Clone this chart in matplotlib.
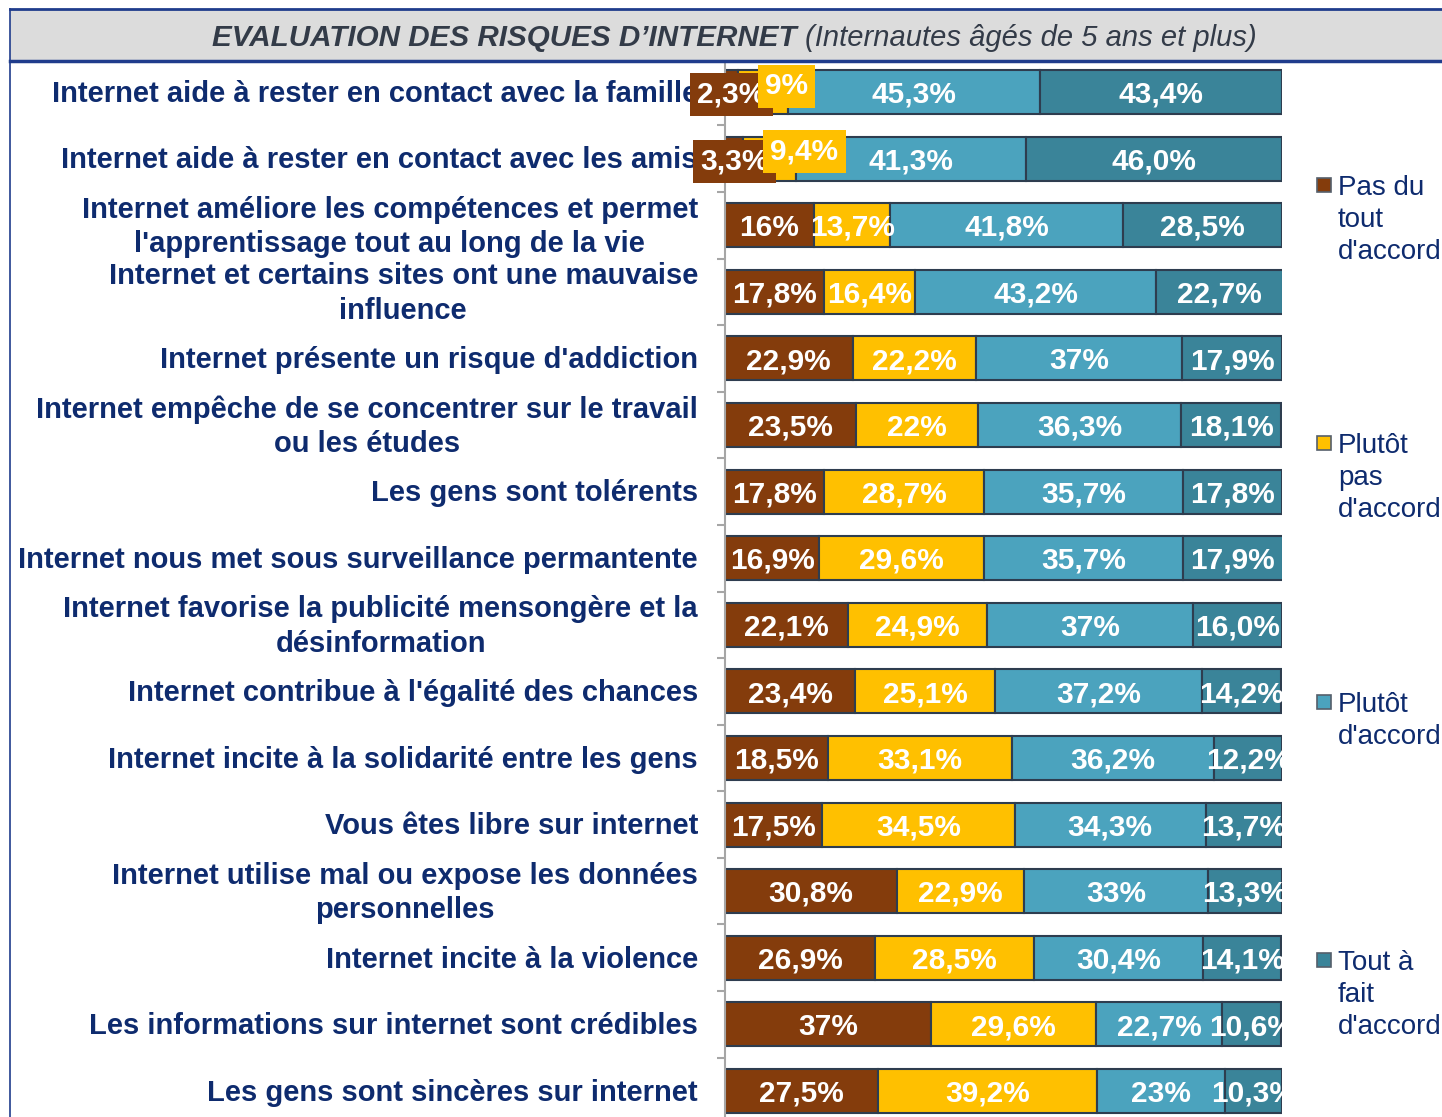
import matplotlib
matplotlib.use("Agg")
import matplotlib.pyplot as plt
from matplotlib.patches import Rectangle
from matplotlib.lines import Line2D

plt.rcParams['font.family'] = ['Liberation Sans', 'DejaVu Sans']

categories = [
    "Internet aide à rester en contact avec la famille",
    "Internet aide à rester en contact avec les amis",
    "Internet améliore les compétences et permet\nl'apprentissage tout au long de la vie",
    "Internet et certains sites ont une mauvaise\ninfluence",
    "Internet présente un risque d'addiction",
    "Internet empêche de se concentrer sur le travail\nou les études",
    "Les gens sont tolérents",
    "Internet nous met sous surveillance permantente",
    "Internet favorise la publicité mensongère et la\ndésinformation",
    "Internet contribue à l'égalité des chances",
    "Internet incite à la solidarité entre les gens",
    "Vous êtes libre sur internet",
    "Internet utilise mal ou expose les données\npersonnelles",
    "Internet incite à la violence",
    "Les informations sur internet sont crédibles",
    "Les gens sont sincères sur internet",
]

# values as printed on the chart (French decimal comma)
pas_du_tout = ["2,3", "3,3", "16", "17,8", "22,9", "23,5", "17,8", "16,9",
               "22,1", "23,4", "18,5", "17,5", "30,8", "26,9", "37", "27,5"]
plutot_pas = ["9", "9,4", "13,7", "16,4", "22,2", "22", "28,7", "29,6",
              "24,9", "25,1", "33,1", "34,5", "22,9", "28,5", "29,6", "39,2"]
plutot = ["45,3", "41,3", "41,8", "43,2", "37", "36,3", "35,7", "35,7",
          "37", "37,2", "36,2", "34,3", "33", "30,4", "22,7", "23"]
tout_a_fait = ["43,4", "46,0", "28,5", "22,7", "17,9", "18,1", "17,8", "17,9",
               "16,0", "14,2", "12,2", "13,7", "13,3", "14,1", "10,6", "10,3"]

series_names = ["Pas du\ntout\nd'accord", "Plutôt\npas\nd'accord",
                "Plutôt\nd'accord", "Tout à\nfait\nd'accord"]
series = [pas_du_tout, plutot_pas, plutot, tout_a_fait]
colors = ["#843C0C", "#FFC000", "#4BA3BE", "#3A8499"]

navy = "#0E2B6E"
edge = "#2E3D4F"

W, H = 1442, 1117
fig = plt.figure(figsize=(W / 100, H / 100), dpi=100)

# axes: x 0..100 maps to px 725..1282, rows every ~66.6 px starting at 92
top_px, bot_px = 92 - 33.3, 92 + 15.5 * 66.6
ax = fig.add_axes([725 / W, 1 - bot_px / H, 557 / W, (bot_px - top_px) / H])

n = len(categories)
ypos = list(range(n))
left = [0.0] * n
for s, (vals, col) in enumerate(zip(series, colors)):
    v = [float(x.replace(",", ".")) for x in vals]
    bars = ax.barh(ypos, v, left=left, height=0.66, color=col,
                   edgecolor=edge, linewidth=1.5, zorder=2)
    for i, (b, txt) in enumerate(zip(bars, vals)):
        cx = left[i] + v[i] / 2
        kw = dict(ha="center", va="center", color="white", fontsize=21.5,
                  fontweight="bold", zorder=5)
        dx, dy = 0, -2
        if i < 2 and s < 2:
            kw["bbox"] = dict(boxstyle="square,pad=0.25", facecolor=col,
                              edgecolor="none")
            if s == 1:
                dx, dy = (17, 4) if i == 0 else (25, 5)
        t = ax.annotate(txt + "%", (cx, i), xytext=(dx, dy),
                        textcoords="offset points", **kw)
        t.set_clip_on(s == 3)
    left = [l + x for l, x in zip(left, v)]

ax.set_xlim(0, 100)
ax.set_ylim(n - 0.5, -0.5)
ax.set_xticks([])
for sp in ["top", "right", "bottom"]:
    ax.spines[sp].set_visible(False)
ax.spines["left"].set_color("#A6A6A6")
ax.spines["left"].set_linewidth(1.5)
ax.set_yticks([])
ax.set_yticks([i + 0.5 for i in range(n - 1)], minor=True)
ax.tick_params(axis="y", which="minor", length=6, width=1.5, color="#A6A6A6")

# category labels
for i, cat in enumerate(categories):
    ax.annotate(cat, (0, i), xycoords=("axes fraction", "data"),
                xytext=(-19.5, -1.3), textcoords="offset points",
                ha="right", va="center", multialignment="center",
                fontsize=21, fontweight="bold", color=navy, linespacing=1.3)

# title band
fig.patches.append(Rectangle((10 / W, 1 - 61 / H), 1 - 10 / W, 51 / H,
                             transform=fig.transFigure, facecolor="#DCDCDC",
                             edgecolor="none", zorder=0))
fig.lines.append(Line2D([10 / W, 1], [1 - 9 / H] * 2, transform=fig.transFigure,
                        color="#1F3C8C", lw=2))
fig.lines.append(Line2D([10 / W, 1], [1 - 61 / H] * 2, transform=fig.transFigure,
                        color="#1F3C8C", lw=2.5))
fig.lines.append(Line2D([10 / W] * 2, [0, 1 - 9 / H], transform=fig.transFigure,
                        color="#1F3C8C", lw=1.2))
fig.text(212 / W, 1 - 38 / H, "EVALUATION DES RISQUES D\u2019INTERNET",
         fontsize=21.3, fontweight="bold", fontstyle="italic", color="#333B48",
         ha="left", va="center")
fig.text(805 / W, 1 - 38 / H, "(Internautes âgés de 5 ans et plus)",
         fontsize=21, fontstyle="italic", color="#333B48",
         ha="left", va="center")

# legend
legend_y = [185, 443, 702, 960]
for name, col, yc in zip(series_names, colors, legend_y):
    fig.patches.append(Rectangle((1317 / W, 1 - (yc + 7) / H), 14 / W, 14 / H,
                                 transform=fig.transFigure, facecolor=col,
                                 edgecolor="#555F6B", lw=1.2))
    fig.text(1338 / W, 1 - (yc - 10) / H, name, fontsize=20, color=navy,
             ha="left", va="top", linespacing=1.3)

fig.savefig("out.png", dpi=100)
